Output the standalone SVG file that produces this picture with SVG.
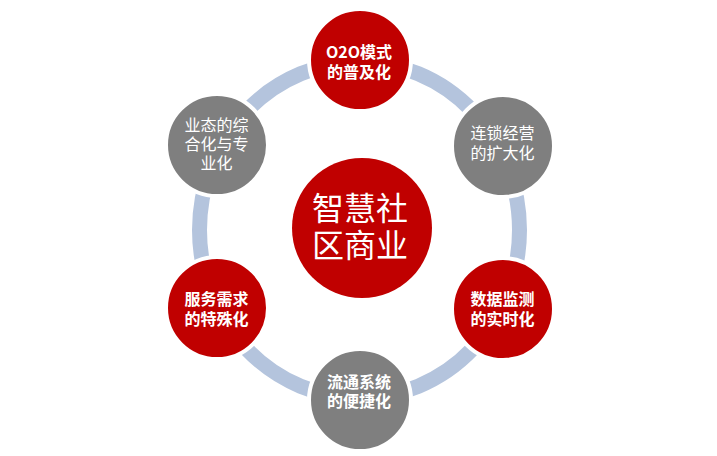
<svg xmlns="http://www.w3.org/2000/svg" width="717" height="456" viewBox="0 0 717 456">
<style>
.ring{fill:none;stroke:#B4C4DD;stroke-width:15}
.red{fill:#C00000;stroke:#FFFFFF;stroke-width:4}
.gray{fill:#7F7F7F;stroke:#FFFFFF;stroke-width:4}
.t{font-family:"Noto Sans CJK SC","Noto Sans",sans-serif;font-size:16px;fill:#FFFFFF;text-anchor:middle}
.b{font-weight:bold}
.c{font-family:"Noto Sans CJK SC","Noto Sans",sans-serif;font-size:32px;fill:#FFFFFF;text-anchor:middle}
</style>
<rect width="717" height="456" fill="#FFFFFF"/>
<g id="connectors">
<ellipse class="ring" cx="359.5" cy="230" rx="160" ry="168"/>
</g>
<g id="center">
<circle cx="362" cy="228" r="70" fill="#C00000"/>
<text class="c" x="360" y="220">智慧社</text>
<text class="c" x="360" y="257">区商业</text>
</g>
<g id="node-top">
<circle class="red" cx="360" cy="60" r="51"/>
<text class="t b" x="359" y="58">O2O模式</text>
<text class="t b" x="359" y="78">的普及化</text>
</g>
<g id="node-upper-right">
<circle class="gray" cx="503" cy="146" r="51"/>
<text class="t" x="502.5" y="139">连锁经营</text>
<text class="t" x="502.5" y="159">的扩大化</text>
</g>
<g id="node-lower-right">
<circle class="red" cx="503" cy="309" r="51"/>
<text class="t b" x="502.5" y="305">数据监测</text>
<text class="t b" x="502.5" y="325">的实时化</text>
</g>
<g id="node-bottom">
<circle class="gray" cx="360" cy="400" r="51"/>
<text class="t b" x="359" y="388">流通系统</text>
<text class="t b" x="359" y="407">的便捷化</text>
</g>
<g id="node-lower-left">
<circle class="red" cx="217" cy="308" r="51"/>
<text class="t b" x="216.5" y="305">服务需求</text>
<text class="t b" x="216.5" y="325">的特殊化</text>
</g>
<g id="node-upper-left">
<circle class="gray" cx="217" cy="145" r="51"/>
<text class="t" x="216.5" y="131">业态的综</text>
<text class="t" x="216.5" y="150">合化与专</text>
<text class="t" x="216.5" y="169">业化</text>
</g>
</svg>
